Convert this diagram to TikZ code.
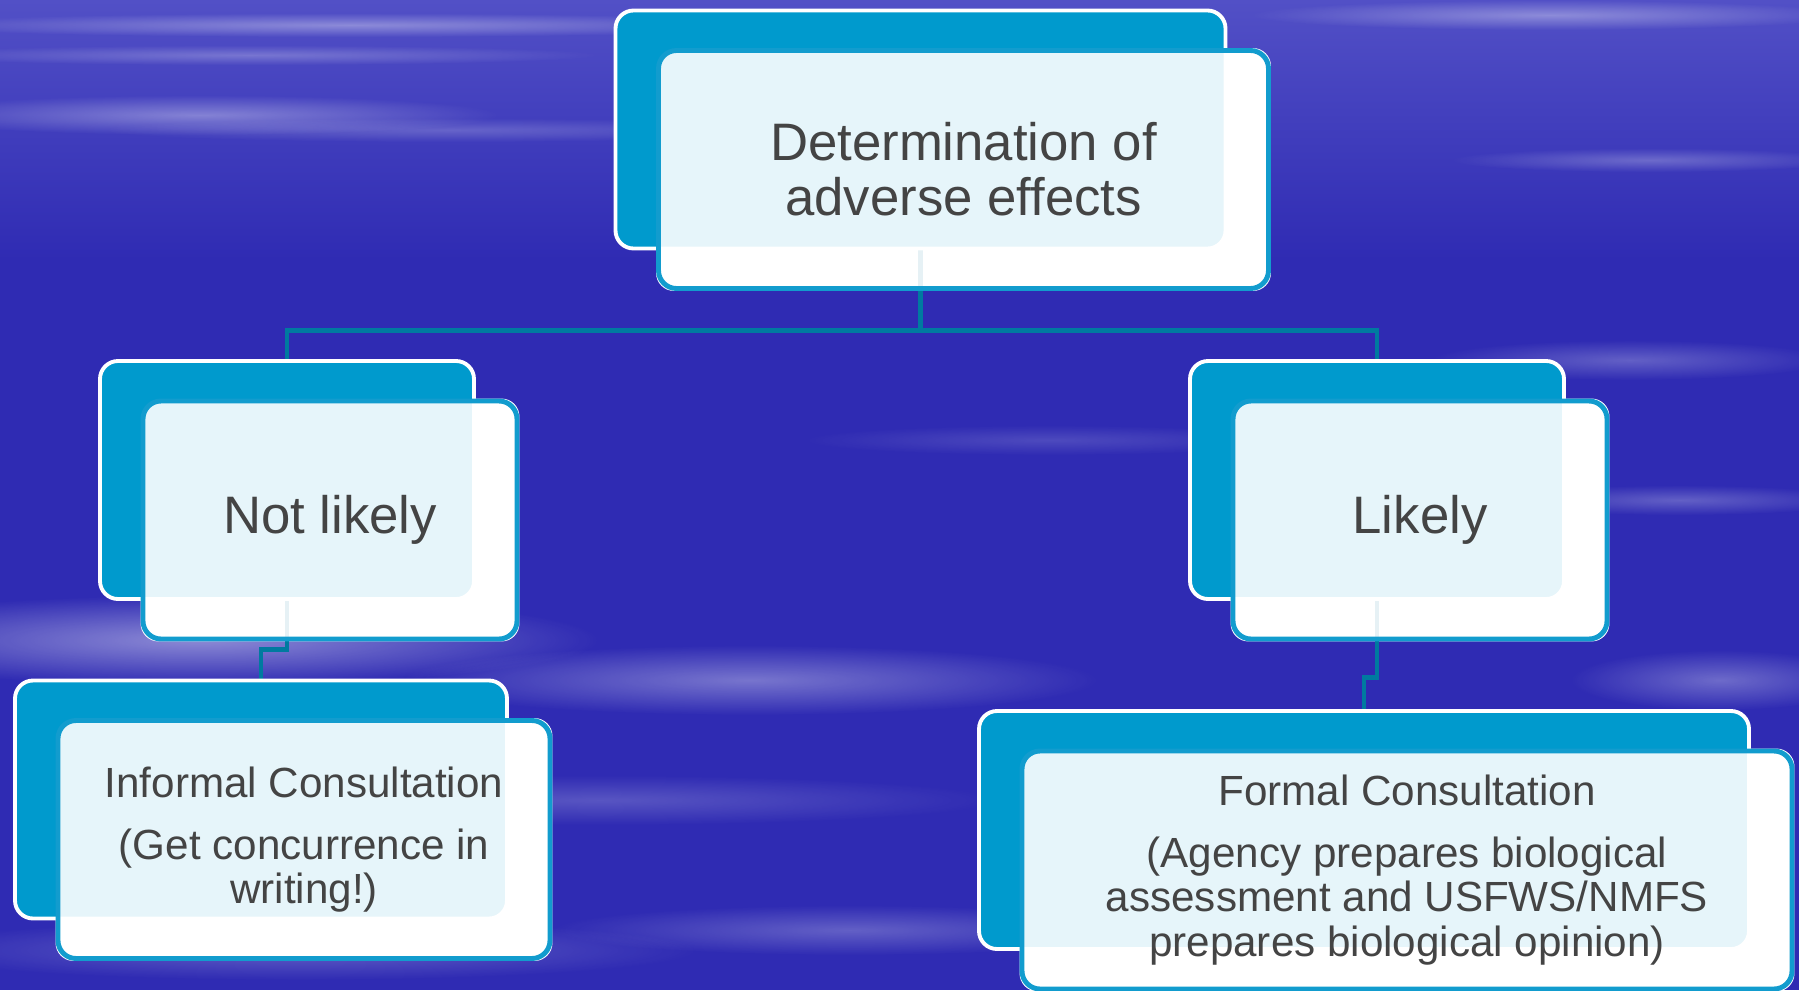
\documentclass[tikz,border=0pt]{standalone}
\usepackage{fontspec}
\setmainfont{Liberation Sans}
\usetikzlibrary{positioning}
\usetikzlibrary{fadings}
\definecolor{bgblue}{RGB}{47,43,179}
\definecolor{bgtop}{RGB}{82,80,198}
\definecolor{backfill}{RGB}{0,154,205}
\definecolor{frontline}{RGB}{18,156,206}
\definecolor{linkteal}{RGB}{0,122,160}
\definecolor{txtgray}{RGB}{68,68,68}
\tikzfading[name=softstreak, inner color=transparent!0, outer color=transparent!100]
\pgfdeclarelayer{bg}
\pgfdeclarelayer{links}
\pgfsetlayers{bg,links,main}

\begin{document}
\begin{tikzpicture}[
        back/.style={draw=white, line width=1.1pt, fill=backfill, rounded corners=0.18cm, minimum height=2.38cm},
        front/.style={draw=frontline, line width=1.4pt, fill=white, fill opacity=0.9, text opacity=1, text=txtgray, rounded corners=0.18cm, minimum height=2.38cm, align=center},
        big/.style={font=\fontsize{15}{15.6}\selectfont},
        small/.style={font=\fontsize{12}{12.6}\selectfont},
        link/.style={draw=linkteal, line width=1.4pt},
        streak/.style={fill=white, path fading=softstreak}
    ]
        \clip (0,0) rectangle (17.99,-9.90);

        \node[back, minimum width=6.10cm] (detback) at (9.205,-1.295) {};
        \node[front, big, minimum width=6.10cm] (detfront) at ([shift={(0.43,-0.40)}]detback.center) {Determination of\\adverse effects};

        \node[back, minimum width=3.74cm] (nlback) at (2.87,-4.80) {};
        \node[front, big, minimum width=3.74cm] (nlfront) at ([shift={(0.43,-0.40)}]nlback.center) {Not likely};

        \node[back, minimum width=3.74cm] (lback) at (13.77,-4.80) {};
        \node[front, big, minimum width=3.74cm] (lfront) at ([shift={(0.43,-0.40)}]lback.center) {Likely};

        \node[back, minimum width=4.92cm] (infback) at (2.61,-7.995) {};
        \node[front, small, minimum width=4.92cm] (inffront) at ([shift={(0.43,-0.40)}]infback.center) {Informal Consultation\\[5pt](Get concurrence in\\writing!)};

        \node[back, minimum width=7.70cm] (formback) at (13.64,-8.30) {};
        \node[front, small, minimum width=7.70cm] (formfront) at ([shift={(0.43,-0.40)}]formback.center) {Formal Consultation\\[5pt](Agency prepares biological\\assessment and USFWS/NMFS\\prepares biological opinion)};

        \begin{pgfonlayer}{bg}
                \fill[bgblue] (0,0) rectangle (17.99,-9.90);
                \shade[top color=bgtop, bottom color=bgblue] (0,0) rectangle (17.99,-2.6);
                \fill[streak, opacity=0.35] (3.5,-0.25) ellipse (4.5 and 0.12);
                \fill[streak, opacity=0.25] (2.5,-0.55) ellipse (3.5 and 0.10);
                \fill[streak, opacity=0.35] (2.0,-1.15) ellipse (3.0 and 0.20);
                \fill[streak, opacity=0.20] (4.5,-1.30) ellipse (3.5 and 0.12);
                \fill[streak, opacity=0.35] (15.5,-0.15) ellipse (3.0 and 0.15);
                \fill[streak, opacity=0.25] (16.5,-1.60) ellipse (2.0 and 0.12);
                \fill[streak, opacity=0.25] (16.3,-3.60) ellipse (2.0 and 0.20);
                \fill[streak, opacity=0.25] (16.8,-5.00) ellipse (1.8 and 0.15);
                \fill[streak, opacity=0.45] (2.0,-6.40) ellipse (4.0 and 0.45);
                \fill[streak, opacity=0.35] (7.5,-6.80) ellipse (3.5 and 0.35);
                \fill[streak, opacity=0.20] (6.0,-8.00) ellipse (4.0 and 0.25);
                \fill[streak, opacity=0.25] (3.0,-9.50) ellipse (4.0 and 0.30);
                \fill[streak, opacity=0.25] (8.5,-9.30) ellipse (3.0 and 0.25);
                \fill[streak, opacity=0.30] (17.2,-6.80) ellipse (1.5 and 0.30);
                \fill[streak, opacity=0.15] (10.5,-4.40) ellipse (2.5 and 0.15);
        \end{pgfonlayer}

        \begin{pgfonlayer}{links}
                \foreach \n in {detfront,nlfront,lfront,inffront,formfront}
                        \fill[white, rounded corners=0.18cm] (\n.south west) rectangle (\n.north east);
                \draw[link] (detback.south) -- ++(0,-0.80) coordinate (hub);
                \draw[link] (nlback.north) |- (hub) -| (lback.north);
                \draw[link] (nlback.south) -- ++(0,-0.49) -| (infback.north);
                \draw[link] (lback.south) -- ++(0,-0.77) -| (formback.north);
        \end{pgfonlayer}
\end{tikzpicture}
\end{document}
